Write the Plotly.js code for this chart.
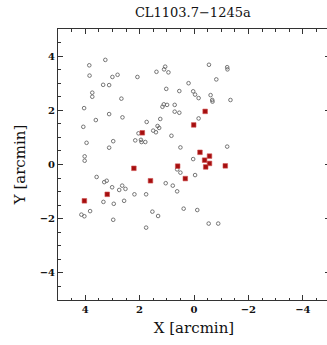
<!DOCTYPE html>
<html>
<head>
<meta charset="utf-8">
<script src="https://cdn.plot.ly/plotly-3.0.1.min.js"></script>
<style>
  html, body { margin: 0; padding: 0; background: #fff; overflow: hidden; }
  #chart { width: 331px; height: 345px; }
</style>
</head>
<body>
<div id="chart"></div>
<script>
// Galaxy positions in the CL1103.7-1245a field, offsets in arcmin.
// All objects (open circles)
const allX = [3.26, 3.85, 3.84, 3.00, 2.81, 2.08, 3.34, 3.12, 3.74, 3.74,
              2.67, 4.04, 3.12, 2.63, 3.61, 4.07, 3.95, 2.97, 1.38, 1.06,
              1.10, 0.94, 1.02, 0.54, 0.20, 0.03, -0.04, -0.17, 1.11, 0.99,
              1.16, 0.71, 0.71, 0.54, 1.74, 1.24, 1.34, 1.28, 1.50, 1.40,
              0.83, 2.04, 2.16, 1.95, 1.93, 1.79, -0.55, -1.22, -1.23, -0.82,
              -0.61, -0.67, -0.68, -1.34, -0.17, 3.12, 0.50, 4.02, 4.02, 0.03,
              0.62, 0.50, -0.04, 3.58, 3.30, 3.21, 3.01, 2.75, 2.64, 2.52,
              1.04, 0.78, 0.62, 2.19, 1.76, 3.33, 2.95, 2.57, 0.38, 3.82,
              4.14, 4.03, 1.53, 1.32, 2.97, 1.76, -1.22, -0.12, -0.54, -0.89];
const allY = [3.86, 3.66, 3.28, 3.23, 3.31, 3.23, 2.94, 2.93, 2.65, 2.50,
              2.43, 2.08, 1.86, 1.74, 1.64, 1.39, 0.80, 0.86, 3.42, 3.61,
              3.51, 3.40, 2.79, 2.71, 3.00, 2.70, 2.58, 2.45, 2.22, 2.20,
              2.13, 2.20, 1.95, 1.91, 1.57, 1.68, 1.42, 1.35, 1.25, 1.19,
              1.06, 1.15, 0.89, 0.91, 0.83, 0.83, 3.68, 3.59, 3.51, 3.14,
              2.56, 2.38, 2.32, 2.38, 1.70, 0.62, 0.63, 0.30, 0.14, 0.20,
              -0.18, -0.30, -0.39, -0.46, -0.65, -0.60, -0.84, -0.94, -0.78, -0.90,
              -0.69, -0.78, -0.99, -1.10, -1.10, -1.38, -1.45, -1.34, -1.63, -1.72,
              -1.85, -1.91, -1.74, -1.90, -2.04, -2.33, 0.66, -1.68, -2.18, -2.18];

// Spectroscopic members (filled squares)
const memberX = [1.90, 0.01, -0.41, 2.21, 0.60, 0.32, 1.60, 3.19, 4.03,
                 -0.22, -0.57, -0.39, -0.57, -0.43, -1.15];
const memberY = [1.17, 1.46, 1.96, -0.14, -0.06, -0.52, -0.60, -1.10, -1.34,
                 0.45, 0.31, 0.16, 0.04, -0.09, -0.05];

const tickVals = [4, 2, 0, -2, -4];

const serif = 'DejaVu Serif, Liberation Serif, serif';
const frame = '#333';

const traces = [
  {
    x: allX, y: allY, type: 'scatter', mode: 'markers',
    marker: { symbol: 'circle-open', size: 3.6, color: '#666', line: { width: 0.9, color: '#666' } },
    hoverinfo: 'skip'
  },
  {
    x: memberX, y: memberY, type: 'scatter', mode: 'markers',
    marker: { symbol: 'square', size: 4.6, color: '#a50f0f', line: { width: 0.6, color: '#d05050' } },
    hoverinfo: 'skip'
  }
];

function axis(range, titleText, standoff) {
  return {
    range: range, autorange: false,
    tickmode: 'array', tickvals: tickVals,
    ticks: 'inside', ticklen: 5, tickwidth: 1, tickcolor: frame,
    minor: { ticks: 'inside', ticklen: 2.5, tickwidth: 1, tickcolor: frame, dtick: 0.5, tick0: 0, showgrid: false },
    showline: true, linecolor: frame, linewidth: 1, mirror: 'allticks',
    showgrid: false, zeroline: false,
    tickfont: { family: serif, size: 10, color: '#111', weight: 'bold' },
    title: { text: titleText, font: { family: serif, size: 15, color: '#111' }, standoff: standoff }
  };
}

const layout = {
  width: 331, height: 345,
  margin: { l: 58, r: 1, t: 29, b: 45 },
  paper_bgcolor: '#fff', plot_bgcolor: '#fff',
  showlegend: false,
  title: {
    text: 'CL1103.7\u22121245a',
    font: { family: serif, size: 13, color: '#111' },
    x: 0.5825, xanchor: 'center', y: 0.965, yanchor: 'middle'
  },
  xaxis: axis([5, -5], 'X [arcmin]', 8),
  yaxis: axis([-5, 5], 'Y [arcmin]', 10)
};

Plotly.newPlot('chart', traces, layout, { staticPlot: true, displayModeBar: false });
</script>
</body>
</html>
